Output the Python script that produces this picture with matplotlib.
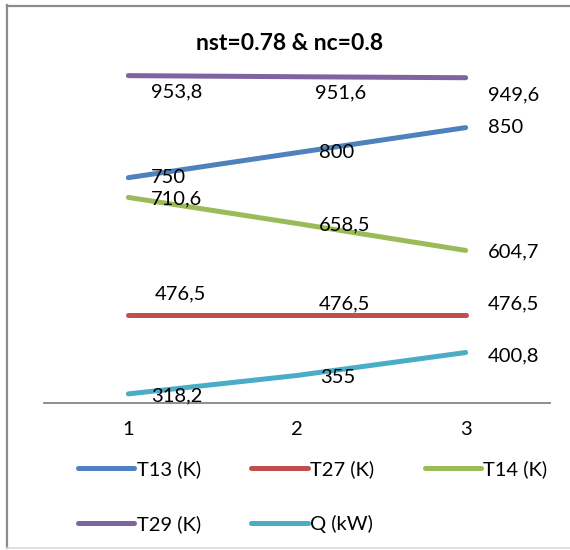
import matplotlib.pyplot as plt
from matplotlib.lines import Line2D

plt.rcParams['font.family'] = ['Lato', 'DejaVu Sans']

# data
cases = [1, 2, 3]
T13 = [750, 800, 850]
T27 = [476.5, 476.5, 476.5]
T14 = [710.6, 658.5, 604.7]
T29 = [953.8, 951.6, 949.6]
Q = [318.2, 355, 400.8]

series = [
    ('T13 (K)', T13, '#4F81BD'),
    ('T27 (K)', T27, '#C0504D'),
    ('T14 (K)', T14, '#9BBB59'),
    ('T29 (K)', T29, '#8064A2'),
    ('Q (kW)', Q, '#4BACC6'),
]

# label offsets in pixels (dx, dy) for each series, per point
label_offsets = {
    'T13 (K)': [(23, 0), (22, 0), (22, 0)],
    'T27 (K)': [(26, 21), (22, 11), (22, 11)],
    'T14 (K)': [(23, -1), (22, -1), (22, -1)],
    'T29 (K)': [(23, -16), (18, -16), (22, -17)],
    'Q (kW)': [(23, -2), (23, -2), (22, -3)],
}

fs = 14.5
fig = plt.figure(figsize=(5.7, 5.5), dpi=100)
W, H = 570, 550
ax = fig.add_axes([44 / W, 1 - 403 / H, 506 / W, 350.5 / H])

handles = {}
for name, vals, col in series:
    ln, = ax.plot(cases, vals, color=col, lw=3.6, solid_capstyle='round', label=name)
    handles[name] = ln
    for x, v, (dx, dy) in zip(cases, vals, label_offsets[name]):
        ax.annotate(f'{v:g}'.replace('.', ','), (x, v), xytext=(dx, dy),
                    textcoords='offset pixels', ha='left', va='center',
                    fontsize=fs, color='black')

ax.set_xlim(0.5, 3.5)
ax.set_ylim(300, 1000)
ax.set_xticks(cases)
ax.set_xticklabels([str(c) for c in cases], fontsize=fs)
ax.tick_params(axis='x', length=0, pad=13)
ax.set_yticks([])
for s in ['top', 'left', 'right']:
    ax.spines[s].set_visible(False)
ax.spines['bottom'].set_color('#868686')
ax.spines['bottom'].set_linewidth(1.3)
ax.patch.set_visible(False)

fig.text(290 / W, 1 - 43 / H, 'nst=0.78 & nc=0.8', ha='center', va='center',
         fontsize=16.5, fontweight='bold')

# legend: reorder so column fill gives row order
order = ['T13 (K)', 'T29 (K)', 'T27 (K)', 'Q (kW)', 'T14 (K)']
leg = fig.legend([handles[k] for k in order], order, ncol=3, loc='upper left',
                 bbox_to_anchor=(68 / W, 1 - 450 / H), frameon=False,
                 fontsize=fs, handlelength=2.8, handletextpad=0.12,
                 columnspacing=2.5, labelspacing=1.85, borderpad=0)

# chart border
fig.add_artist(Line2D([6.5 / W, 6.5 / W], [1 - 5 / H, 1 - 548 / H], color='#8c8c8c', lw=1.6))
fig.add_artist(Line2D([6.5 / W, 1.0], [1 - 5.5 / H, 1 - 5.5 / H], color='#8c8c8c', lw=1.6))
fig.add_artist(Line2D([6.5 / W, 1.0], [1 - 548 / H, 1 - 548 / H], color='#dcdcdc', lw=1.2))

fig.savefig('out.png', dpi=100)
